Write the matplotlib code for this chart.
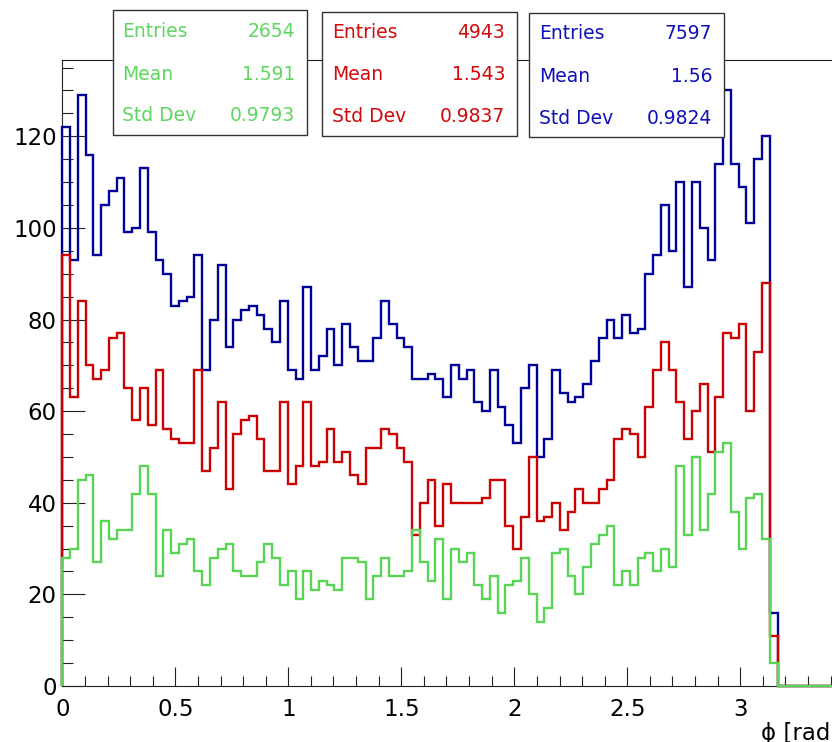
import numpy as np
import matplotlib
matplotlib.use("Agg")
import matplotlib.pyplot as plt
from matplotlib.patches import Rectangle
from matplotlib.ticker import MultipleLocator, FuncFormatter

# bin contents of the phi histograms, filled bins only (the rest are empty)
green_counts = [28, 30, 45, 46, 27, 36, 32, 34, 34, 42, 48, 42, 24, 34, 29, 31,
                32, 25, 22, 28, 30, 31, 25, 24, 24, 27, 31, 28, 22, 25, 19,
                25, 21, 23, 22, 21, 28, 28, 27, 19, 24, 28, 24, 24, 25, 34,
                27, 23, 32, 19, 30, 27, 29, 22, 19, 24, 16, 22, 23, 28, 20, 14,
                17, 29, 30, 24, 20, 26, 31, 33, 35, 22, 25, 22, 28, 29, 25,
                30, 26, 48, 33, 50, 34, 42, 51, 53, 38, 30, 41, 42, 32, 5]
red_counts = [94, 63, 84, 70, 67, 69, 76, 77, 65, 58, 65, 57, 69, 56, 54, 53,
              53, 69, 47, 52, 62, 43, 55, 58, 59, 54, 47, 47, 62, 44, 48,
              62, 48, 49, 56, 49, 51, 46, 44, 52, 52, 56, 55, 52, 49, 33,
              40, 45, 35, 44, 40, 40, 40, 40, 41, 45, 45, 35, 30, 37, 50, 36,
              37, 40, 34, 38, 43, 40, 40, 43, 45, 54, 56, 55, 50, 61, 69,
              75, 69, 62, 54, 60, 66, 51, 63, 77, 76, 79, 60, 73, 88, 11]
all_counts = [122, 93, 129, 116, 94, 105, 108, 111, 99, 100, 113, 99, 93, 90,
              83, 84, 85, 94, 69, 80, 92, 74, 80, 82, 83, 81, 78, 75, 84, 69, 67,
              87, 69, 72, 78, 70, 79, 74, 71, 71, 76, 84, 79, 76, 74, 67,
              67, 68, 67, 63, 70, 67, 69, 62, 60, 69, 61, 57, 53, 65, 70, 50,
              54, 69, 64, 62, 63, 66, 71, 76, 80, 76, 81, 77, 78, 90, 94,
              105, 95, 110, 87, 110, 100, 93, 114, 130, 114, 109, 101, 115, 120, 16]

stat_names = ["Entries", "Mean", "Std Dev"]
green_stats = ["2654", "1.591", "0.9793"]
red_stats = ["4943", "1.543", "0.9837"]
all_stats = ["7597", "1.56", "0.9824"]

N_BINS = 100
PHI_MAX = 3.44

C_BLUE = "#000099"
C_RED = "#cc0000"
C_GREEN = "#59d454"

W, H = 832, 742
fig = plt.figure(figsize=(W / 100, H / 100), dpi=100)
ax = fig.add_axes([62.3 / W, (H - 686) / H, PHI_MAX * 226 / W, 626 / H])

edges = np.linspace(0, PHI_MAX, N_BINS + 1)


def padded(counts):
    return np.concatenate([counts, np.zeros(N_BINS - len(counts))])


for counts, col in [(all_counts, C_BLUE), (red_counts, C_RED), (green_counts, C_GREEN)]:
    ax.stairs(padded(counts), edges, baseline=0, color=col, lw=1.7,
              zorder=3, clip_on=False)

ax.set_xlim(0, PHI_MAX)
ax.set_ylim(0, 626 / 4.581)

for side in ["top", "left", "bottom"]:
    ax.spines[side].set_linewidth(0.8)
    ax.spines[side].set_color("#222222")
ax.spines["right"].set_visible(False)

fmt = FuncFormatter(lambda v, pos: "{:g}".format(v))
ax.xaxis.set_major_locator(MultipleLocator(0.5))
ax.xaxis.set_minor_locator(MultipleLocator(0.1))
ax.yaxis.set_major_locator(MultipleLocator(20))
ax.yaxis.set_minor_locator(MultipleLocator(5))
ax.xaxis.set_major_formatter(fmt)
ax.yaxis.set_major_formatter(fmt)

ax.tick_params(which="both", direction="in", top=False, right=False,
               width=0.8, color="#222222", labelsize=16.5)
ax.tick_params(axis="x", which="major", length=13.7, pad=8.5)
ax.tick_params(axis="x", which="minor", length=7.2)
ax.tick_params(axis="y", which="major", length=16.3, pad=4)
ax.tick_params(axis="y", which="minor", length=7.9)

ax.text(1.0, -36 / 626, "\u03d5 [rad]", transform=ax.transAxes,
        ha="right", va="top", fontsize=16.5)


# stats boxes above the frame, positions in pixels from the top-left corner
def stats_box(x0, x1, y0, y1, values, color, baselines, lx, vx):
    fig.add_artist(Rectangle((x0 / W, 1 - y1 / H), (x1 - x0) / W, (y1 - y0) / H,
                             transform=fig.transFigure, facecolor="white",
                             edgecolor="#333333", lw=1, zorder=5))
    for name, val, b in zip(stat_names, values, baselines):
        fig.text(lx / W, 1 - b / H, name, color=color, fontsize=13.5,
                 va="baseline", ha="left", zorder=6)
        fig.text(vx / W, 1 - b / H, val, color=color, fontsize=13.5,
                 va="baseline", ha="right", zorder=6)


stats_box(112.7, 307.3, 10, 135, green_stats, "#5fd65f", [37.3, 79.5, 121], 122, 295)
stats_box(322.3, 516.7, 11.7, 136, red_stats, "#d10a0a", [38, 80.5, 122], 332, 505)
stats_box(529.3, 724, 12.7, 136.7, all_stats, "#1010b8", [39.3, 82, 123.5], 539, 712.3)

fig.savefig("out.png", dpi=100)
